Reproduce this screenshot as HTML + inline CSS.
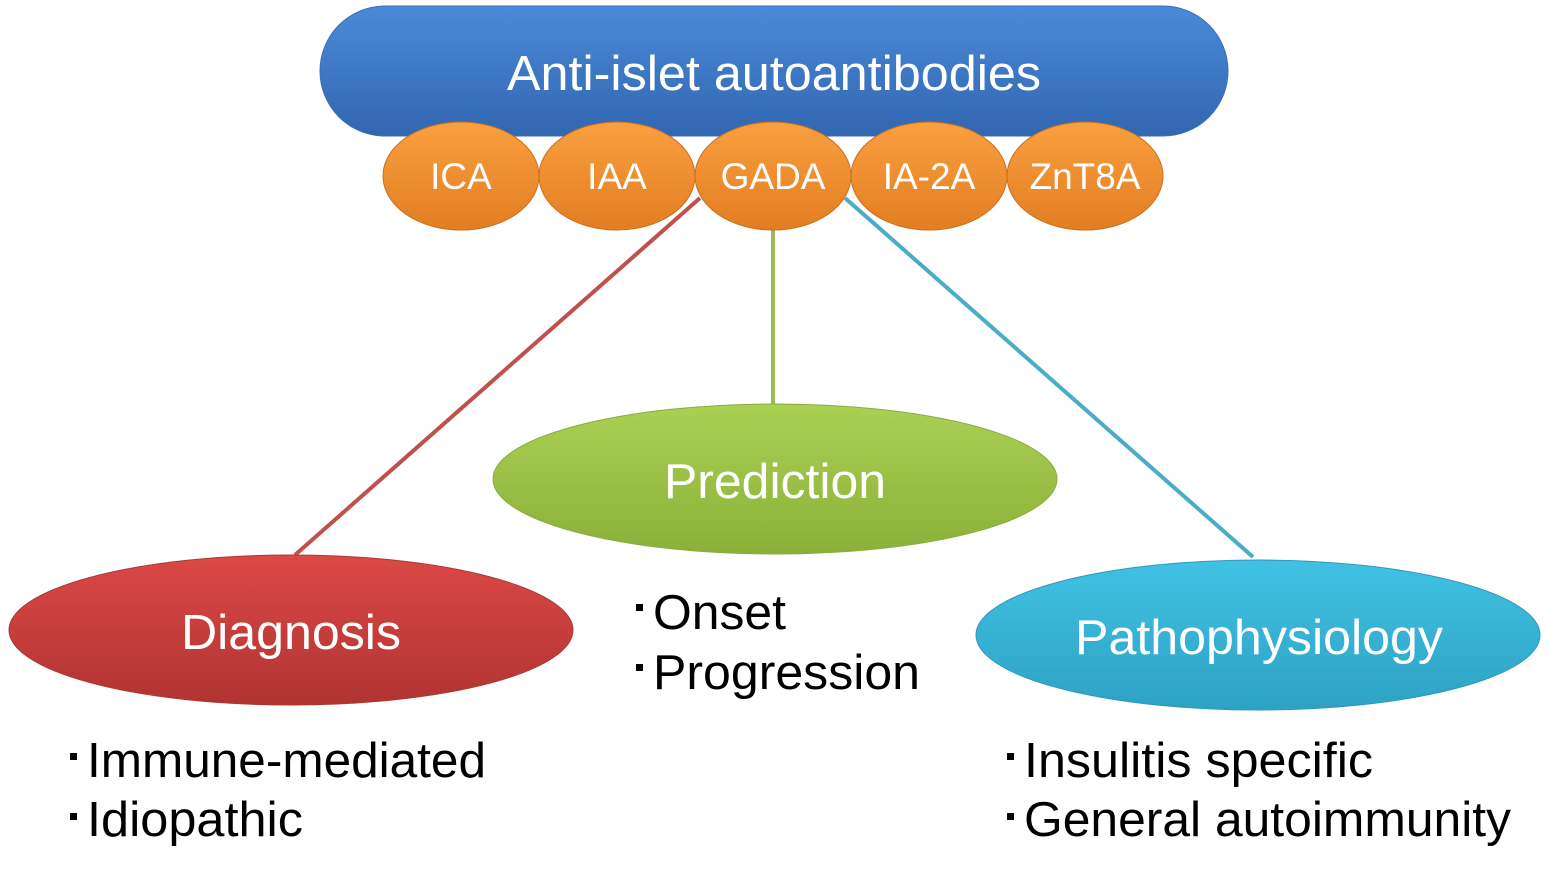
<!DOCTYPE html>
<html><head><meta charset="utf-8"><style>html,body{margin:0;padding:0;background:#fff}svg{display:block}</style></head><body>
<svg width="1550" height="879" viewBox="0 0 1550 879" xmlns="http://www.w3.org/2000/svg" font-family="Liberation Sans, Arial, sans-serif">
<defs>
<linearGradient id="gb" x1="0" y1="0" x2="0" y2="1"><stop offset="0" stop-color="#4a8ad8"/><stop offset="1" stop-color="#3266b0"/></linearGradient>
<linearGradient id="go" x1="0" y1="0" x2="0" y2="1"><stop offset="0" stop-color="#f9a040"/><stop offset="1" stop-color="#e37d22"/></linearGradient>
<linearGradient id="gg" x1="0" y1="0" x2="0" y2="1"><stop offset="0" stop-color="#aad152"/><stop offset="1" stop-color="#8ab03a"/></linearGradient>
<linearGradient id="gr" x1="0" y1="0" x2="0" y2="1"><stop offset="0" stop-color="#dc4846"/><stop offset="1" stop-color="#b03432"/></linearGradient>
<linearGradient id="gc" x1="0" y1="0" x2="0" y2="1"><stop offset="0" stop-color="#40c2e4"/><stop offset="1" stop-color="#2ea2c4"/></linearGradient>
</defs>
<line x1="700" y1="198" x2="295" y2="555" stroke="#c0504d" stroke-width="4"/>
<line x1="773" y1="228" x2="773" y2="405" stroke="#9bbb59" stroke-width="4"/>
<line x1="845" y1="198" x2="1253" y2="557" stroke="#4bacc6" stroke-width="4"/>
<rect x="320" y="6" width="908" height="130" rx="65" fill="url(#gb)" stroke="#3a6fb8" stroke-width="1"/>
<text x="507" y="90" font-size="49" fill="#fff" textLength="534" lengthAdjust="spacingAndGlyphs">Anti-islet autoantibodies</text>
<g stroke="#c8701c" stroke-width="1" fill="url(#go)">
<ellipse cx="461" cy="176" rx="78" ry="54"/>
<ellipse cx="617" cy="176" rx="78" ry="54"/>
<ellipse cx="773" cy="176" rx="78" ry="54"/>
<ellipse cx="929" cy="176" rx="78" ry="54"/>
<ellipse cx="1085" cy="176" rx="78" ry="54"/>
</g>
<g font-size="37" fill="#fff" text-anchor="middle">
<text x="461" y="189">ICA</text><text x="617" y="189">IAA</text><text x="773" y="189">GADA</text><text x="929" y="189">IA-2A</text><text x="1085" y="189">ZnT8A</text>
</g>
<ellipse cx="775" cy="479" rx="282" ry="75" fill="url(#gg)" stroke="#8aac44"/>
<text x="664" y="498" font-size="49" fill="#fff" textLength="222" lengthAdjust="spacingAndGlyphs">Prediction</text>
<ellipse cx="291" cy="630" rx="282" ry="75" fill="url(#gr)" stroke="#a83a38"/>
<text x="181" y="649" font-size="49" fill="#fff" textLength="220" lengthAdjust="spacingAndGlyphs">Diagnosis</text>
<ellipse cx="1258" cy="635" rx="282" ry="75" fill="url(#gc)" stroke="#2e98b8"/>
<text x="1075" y="654" font-size="49" fill="#fff" textLength="368" lengthAdjust="spacingAndGlyphs">Pathophysiology</text>
<g font-size="49" fill="#000">
<rect x="636" y="604" width="7" height="7"/><text x="653" y="629" textLength="133" lengthAdjust="spacingAndGlyphs">Onset</text>
<rect x="636" y="664" width="7" height="7"/><text x="653" y="689" textLength="267" lengthAdjust="spacingAndGlyphs">Progression</text>
<rect x="70" y="753" width="7" height="7"/><text x="87" y="777" textLength="399" lengthAdjust="spacingAndGlyphs">Immune-mediated</text>
<rect x="70" y="813" width="7" height="7"/><text x="87" y="836" textLength="216" lengthAdjust="spacingAndGlyphs">Idiopathic</text>
<rect x="1007" y="753" width="7" height="7"/><text x="1024" y="777" textLength="349" lengthAdjust="spacingAndGlyphs">Insulitis specific</text>
<rect x="1007" y="813" width="7" height="7"/><text x="1024" y="836" textLength="487" lengthAdjust="spacingAndGlyphs">General autoimmunity</text>
</g>
</svg>
</body></html>
